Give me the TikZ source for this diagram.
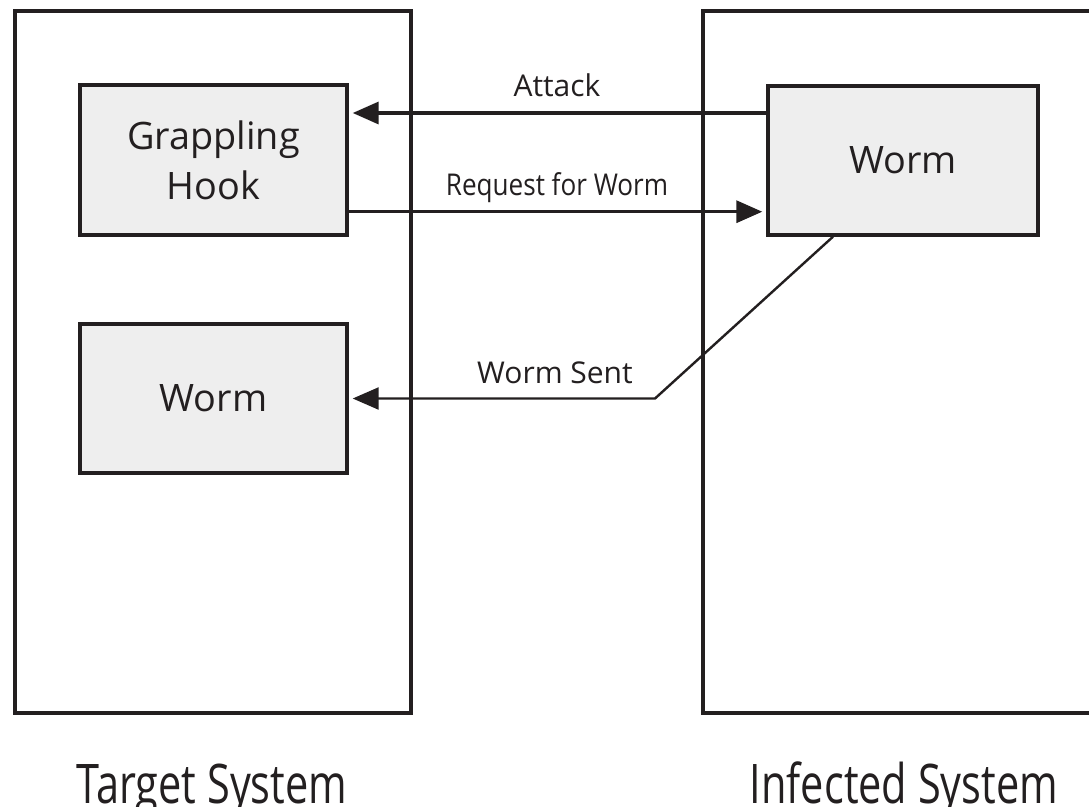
\documentclass[tikz,border=0pt]{standalone}
\usepackage{fontspec}
\setmainfont{Open Sans}
\usetikzlibrary{arrows.meta}
\definecolor{inkcol}{RGB}{35,31,32}
\definecolor{boxfill}{RGB}{238,238,238}
\begin{document}
\begin{tikzpicture}[x=1pt,y=-1pt,
  system/.style={draw=inkcol,line width=3.6pt,inner sep=0pt,minimum width=396pt,minimum height=702pt},
  part/.style={draw=inkcol,fill=boxfill,line width=3.4pt,inner sep=0pt,minimum width=267pt,minimum height=150pt,
    text=inkcol,align=center,font=\fontsize{37.8}{50}\selectfont},
  flow/.style={draw=inkcol,line width=3.4pt,shorten >=4pt,-{Triangle[length=26pt,width=22pt]}},
  flowlabel/.style={anchor=base,text=inkcol,inner sep=0pt,font=\fontsize{30}{36}\selectfont},
  syslabel/.style={anchor=base,text=inkcol,inner sep=0pt,font=\fontsize{54.6}{60}\selectfont}]
\useasboundingbox (0,0) rectangle (1089,806);
\fill[white] (0,0) rectangle (1089,806);

% the two machines
\node[system] (target) at (213,362) {};
\node[system,minimum width=400pt] (infected) at (903,362) {};

% components
\node[part] (hook) at (213.5,160) {\raisebox{-3pt}{Grappling}\\\raisebox{-3pt}{Hook}};
\node[part,minimum height=149pt] (wormT) at (213.5,398.5) {Worm};
\node[part,minimum width=270pt,minimum height=149pt] (wormI) at (903,160.5) {Worm};

% message flow
\draw[flow] ([yshift=47.5pt]wormI.west) -- ([yshift=47pt]hook.east);
\draw[flow] ([yshift=-51.7pt]hook.east) -- ([yshift=-51.2pt]wormI.west);
\coordinate (kink) at (655,398.5);
\draw[flow,line width=2.4pt] ([xshift=-70pt]wormI.south) -- (kink) -- (wormT.east);

\node[flowlabel] (lblAttack) at (557,96.5) {Attack};
\node[flowlabel] (lblRequest) at (557,195) {\scalebox{0.87}[1]{Request for Worm}};
\node[flowlabel] (lblSent) at (555,383) {Worm Sent};

% machine captions
\node[syslabel] (capT) at (212,803) {\scalebox{0.76}[1]{Target System}};
\node[syslabel] (capI) at (904,803) {\scalebox{0.76}[1]{Infected System}};
\end{tikzpicture}
\end{document}
